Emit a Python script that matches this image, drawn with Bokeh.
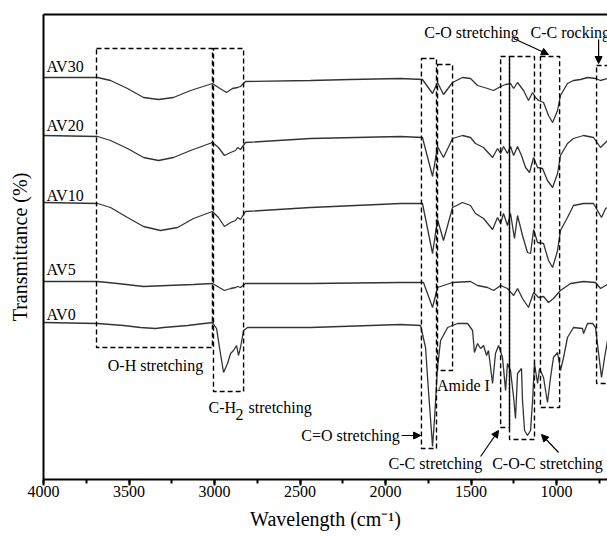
from bokeh.plotting import figure
from bokeh.models import (Range1d, SingleIntervalTicker, FixedTicker, LinearAxis,
                          Arrow, NormalHead, ColumnDataSource)
from bokeh.core.properties import value
from bokeh.embed import file_html
from bokeh.resources import INLINE

# ---------------- data (wavenumber cm-1, transmittance a.u., curves offset) ----------------
wn_av30 = [4000, 3684, 3608, 3509, 3415, 3327, 3240, 3140, 3012, 2977, 2930, 2895, 2865, 2848, 2819,
           2439, 2205, 1912, 1784, 1725, 1696, 1661, 1608, 1550, 1503, 1462, 1403, 1368, 1327, 1298,
           1269, 1251, 1228, 1193, 1164, 1140, 1123, 1105, 1076, 1047, 1023, 994, 977, 936, 901,
           860, 819, 772, 743, 702]
t_av30 = [402, 402, 399, 391, 382, 380, 382, 389, 396, 392, 387, 391, 392, 393, 398,
          399, 400, 401, 400, 386, 397, 385, 397, 402, 401, 394, 391, 389, 393, 395,
          396, 391, 397, 389, 379, 387, 382, 379, 377, 364, 357, 369, 384, 396, 399,
          400, 402, 401, 399, 401]

wn_av20 = [4000, 3684, 3608, 3509, 3415, 3327, 3240, 3140, 3012, 2977, 2942, 2906, 2877, 2865, 2848,
           2819, 2439, 1912, 1784, 1725, 1696, 1661, 1608, 1550, 1503, 1474, 1427, 1374, 1345, 1327,
           1310, 1287, 1269, 1251, 1228, 1205, 1181, 1158, 1134, 1111, 1082, 1053, 1023, 994, 977,
           936, 901, 842, 784, 743, 713, 702]
t_av20 = [344, 343, 339, 331, 322, 319, 322, 329, 337, 332, 324, 327, 329, 332, 330,
          337, 341, 343, 342, 303, 333, 322, 341, 344, 342, 336, 332, 322, 331, 326,
          333, 326, 333, 324, 333, 324, 312, 307, 322, 312, 311, 299, 292, 306, 324,
          336, 341, 344, 342, 332, 337, 339]

wn_av10 = [4000, 3684, 3608, 3509, 3415, 3316, 3216, 3123, 3012, 2977, 2942, 2906, 2877, 2865, 2848,
           2819, 2439, 1912, 1784, 1725, 1696, 1661, 1608, 1550, 1503, 1474, 1427, 1374, 1345, 1327,
           1310, 1287, 1269, 1246, 1228, 1199, 1170, 1152, 1134, 1111, 1076, 1047, 1023, 994, 977,
           936, 901, 842, 784, 737, 713, 702]
t_av10 = [277, 276, 272, 262, 253, 249, 252, 261, 268, 262, 253, 257, 259, 262, 260,
          268, 272, 276, 276, 226, 260, 239, 272, 277, 274, 266, 261, 250, 262, 256,
          266, 254, 266, 241, 264, 244, 227, 226, 250, 237, 236, 219, 212, 229, 249,
          262, 274, 276, 276, 262, 271, 272]

wn_av5 = [4000, 3684, 3567, 3415, 3275, 3123, 3012, 2942, 2906, 2877, 2865, 2848, 2819, 2439, 1912,
          1778, 1725, 1696, 1661, 1608, 1503, 1462, 1403, 1368, 1327, 1287, 1251, 1228, 1199, 1164,
          1134, 1105, 1076, 1047, 1018, 977, 918, 842, 772, 743, 713, 702]
t_av5 = [198, 198, 196, 193, 194, 195, 196, 189, 191, 192, 193, 192, 196, 196, 197,
         197, 172, 192, 194, 197, 198, 194, 192, 189, 194, 191, 184, 191, 181, 172,
         187, 182, 183, 177, 181, 189, 196, 198, 197, 191, 194, 195]

wn_av0 = [4000, 3684, 3532, 3433, 3345, 3298, 3158, 3012, 2988, 2971, 2947, 2924, 2906, 2889, 2871,
          2860, 2848, 2830, 2807, 2439, 1912, 1795, 1766, 1749, 1725, 1713, 1696, 1678, 1637, 1579,
          1520, 1491, 1480, 1462, 1444, 1427, 1409, 1398, 1374, 1357, 1339, 1316, 1298, 1287, 1269,
          1251, 1240, 1228, 1205, 1199, 1187, 1170, 1152, 1140, 1129, 1111, 1099, 1076, 1053, 1035,
          1018, 994, 977, 959, 936, 901, 848, 842, 819, 789, 772, 754, 737, 719, 702]
t_av0 = [157, 156, 154, 152, 151, 152, 154, 157, 151, 132, 107, 116, 126, 129, 134,
         124, 132, 149, 152, 152, 155, 154, 132, 89, 33, 62, 112, 139, 152, 156,
         156, 149, 127, 136, 131, 134, 124, 129, 96, 126, 134, 122, 89, 116, 109,
         82, 61, 106, 111, 79, 49, 44, 49, 79, 116, 96, 111, 102, 77, 102,
         122, 127, 109, 122, 142, 152, 151, 146, 156, 156, 152, 126, 102, 122, 139]

series = [(wn_av30, t_av30), (wn_av20, t_av20), (wn_av10, t_av10), (wn_av5, t_av5), (wn_av0, t_av0)]
sample_names = ["AV30", "AV20", "AV10", "AV5", "AV0"]
sample_label_wn = [3982, 3982, 3982, 3982, 3982]
sample_label_t = [413, 354, 284, 210, 165]

# dashed band boxes (wavenumber left/right, transmittance top/bottom)
box_names = ["O-H", "C-H2", "C=O", "Amide I", "C-C str", "C-O-C", "C-O", "C-C rock"]
box_left = [3690, 3006, 1790, 1696, 1327, 1275, 1094, 766]
box_right = [3012, 2830, 1702, 1608, 1275, 1129, 982, 640]
box_top = [431, 431, 421, 415, 423, 423, 423, 414]
box_bottom = [132, 88, 31, 109, 52, 40, 72, 96]

# band labels
band_text = ["O-H stretching", "Amide I", "C=O stretching", "C-C stretching",
             "C-O-C stretching", "C-O stretching"]
band_wn = [3345, 1544, 2205, 1708, 1053, 1497]
band_t = [114, 94, 44, 16, 16, 447]

# arrows
arrow_x0 = [1906, 1251, 754, 1444, 988]
arrow_y0 = [44, 441, 440, 23, 27]
arrow_x1 = [1795, 1047, 754, 1339, 1088]
arrow_y1 = [44, 425, 416, 49, 45]

FONT = "Liberation Serif"

p = figure(width=607, height=539, x_range=Range1d(4000, 702), y_range=Range1d(0, 465),
           output_backend="svg", toolbar_location=None,
           min_border_left=43, min_border_right=0, min_border_top=14, min_border_bottom=60)
p.outline_line_color = None
p.grid.visible = False
p.background_fill_color = "white"
p.border_fill_color = "white"

xa = p.xaxis[0]
xa.ticker = SingleIntervalTicker(interval=500, num_minor_ticks=2)
xa.axis_line_width = 2
xa.axis_line_color = "black"
xa.major_tick_line_width = 2
xa.minor_tick_line_width = 2
xa.major_tick_out = 6
xa.major_tick_in = 0
xa.minor_tick_out = 4
xa.minor_tick_in = 0
xa.major_label_standoff = 0
xa.major_label_text_font = FONT
xa.major_label_text_font_size = "16px"
xa.major_label_text_color = "black"
xa.axis_label = "Wavelength (cm\u207b\u00b9)"
xa.axis_label_text_font = FONT
xa.axis_label_text_font_size = "20px"
xa.axis_label_text_font_style = "normal"
xa.axis_label_text_color = "black"
xa.axis_label_standoff = 8

ya = p.yaxis[0]
ya.ticker = FixedTicker(ticks=[])
ya.axis_line_width = 2
ya.axis_line_color = "black"
ya.axis_label = "Transmittance (%)"
ya.axis_label_text_font = FONT
ya.axis_label_text_font_size = "20px"
ya.axis_label_text_font_style = "normal"
ya.axis_label_text_color = "black"
ya.axis_label_standoff = 13

top = LinearAxis(ticker=FixedTicker(ticks=[]), axis_line_width=2, axis_line_color="black",
                 major_label_text_font_size="0px")
p.add_layout(top, "above")

for wn, t in series:
    p.line(wn, t, line_color="#333333", line_width=1.3)

p.quad(left=box_left, right=box_right, top=box_top, bottom=box_bottom,
       fill_color=None, line_color="black", line_width=1.4, line_dash="5 3")

p.text(x=sample_label_wn, y=sample_label_t, text=sample_names, text_font=value(FONT),
       text_font_size=value("16px"), text_align="left", text_baseline="middle", text_color="black")
p.text(x=band_wn, y=band_t, text=band_text, text_font=value(FONT),
       text_font_size=value("16px"), text_align="center", text_baseline="middle", text_color="black")
p.text(x=[1152], y=[447], text=["C-C rocking"], text_font=value(FONT),
       text_font_size=value("16px"), text_align="left", text_baseline="middle", text_color="black")
# C-H2 stretching with subscript
p.text(x=[3035, 2877, 2801], y=[72, 65, 72], text=["C-H", "2", "stretching"], text_font=value(FONT),
       text_font_size=value("16px"), text_align="left", text_baseline="middle", text_color="black")

asrc = ColumnDataSource(dict(x0=arrow_x0, y0=arrow_y0, x1=arrow_x1, y1=arrow_y1))
p.add_layout(Arrow(end=NormalHead(size=7, fill_color="black", line_color="black"),
                   x_start="x0", y_start="y0", x_end="x1", y_end="y1",
                   line_width=1.2, line_color="black", source=asrc))

open("out.html", "w").write(file_html(p, INLINE))
